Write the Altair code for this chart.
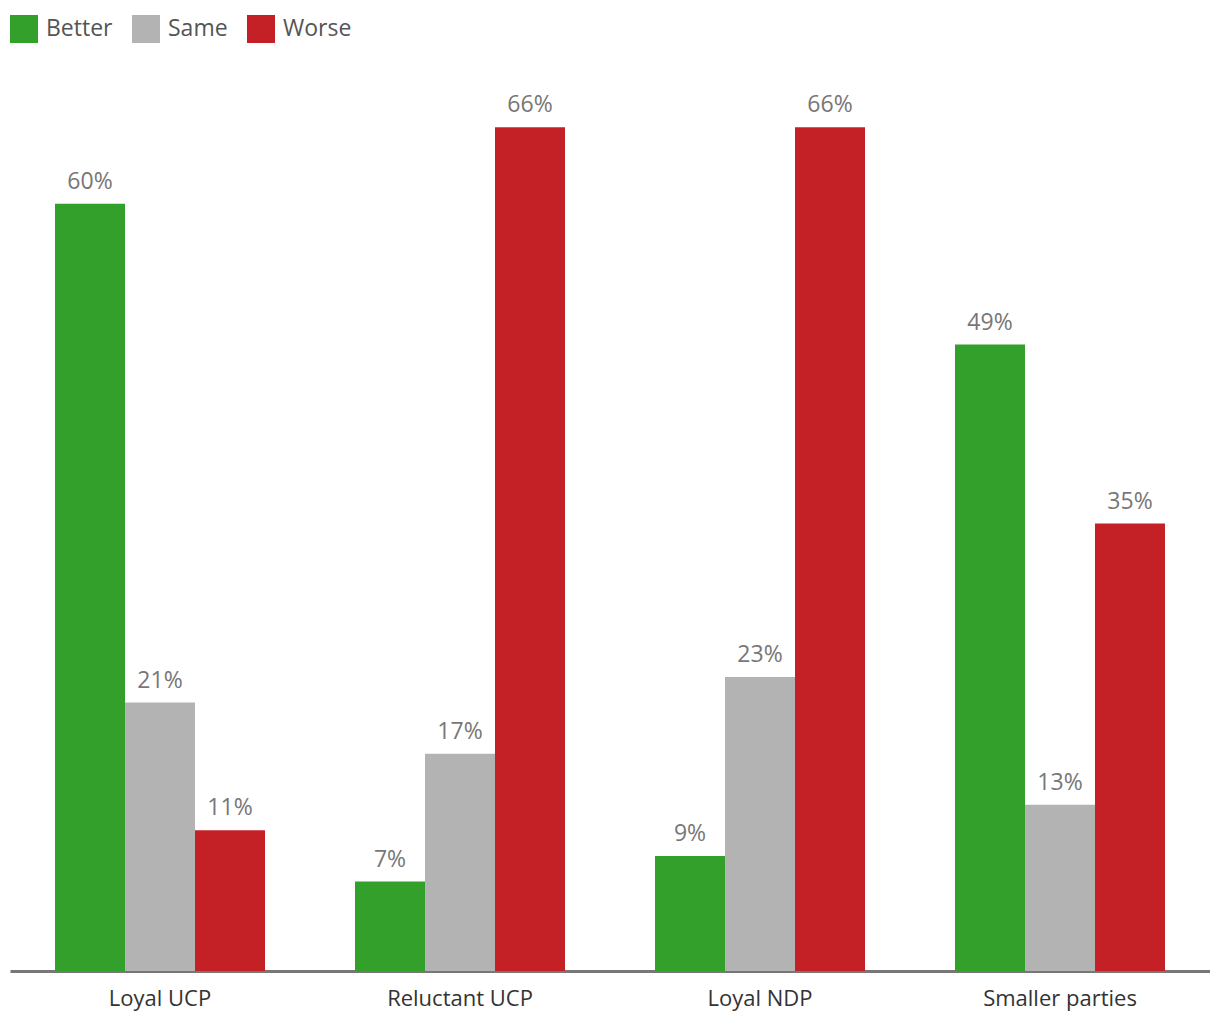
import altair as alt
import pandas as pd

categories = ["Loyal UCP", "Reluctant UCP", "Loyal NDP", "Smaller parties"]
series = ["Better", "Same", "Worse"]
better = [60, 7, 9, 49]
same = [21, 17, 23, 13]
worse = [11, 66, 66, 35]
colors = ["#33a02c", "#b3b3b3", "#c42127"]

rows = []
for i, c in enumerate(categories):
    for s, vals in zip(series, [better, same, worse]):
        rows.append({"group": c, "answer": s, "value": vals[i], "label": f"{vals[i]}%"})
df = pd.DataFrame(rows)

FONT = "Open Sans"

x = alt.X("group:N", sort=categories, title=None,
          scale=alt.Scale(paddingInner=0.3, paddingOuter=0.15),
          axis=alt.Axis(labelAngle=0, labelFontSize=22, labelColor="#333333",
                        labelFont=FONT, labelPadding=17, ticks=False,
                        domainColor="#777777", domainWidth=3))
xo = alt.XOffset("answer:N", sort=series, scale=alt.Scale(paddingInner=0, paddingOuter=0))
y = alt.Y("value:Q", scale=alt.Scale(domain=[0, 70], nice=False), axis=None)

bars = alt.Chart(df).mark_bar().encode(
    x=x, xOffset=xo, y=y,
    color=alt.Color("answer:N", sort=series,
                    scale=alt.Scale(domain=series, range=colors),
                    legend=alt.Legend(title=None, orient="none", direction="horizontal",
                                      legendX=0, legendY=-61,
                                      symbolType="square", symbolSize=784,
                                      symbolStrokeWidth=0, symbolOpacity=1,
                                      labelFontSize=23, labelColor="#555555",
                                      labelFont=FONT, labelOffset=8,
                                      columnPadding=19, padding=0)),
)

labels = alt.Chart(df).mark_text(baseline="alphabetic", dy=-15, fontSize=23,
                                 color="#777777", font=FONT).encode(
    x=alt.X("group:N", sort=categories), xOffset=xo, y=y, text="label:N")

chart = (bars + labels).properties(
    width=1200, height=895,
    padding={"left": 2, "top": 7, "right": 0, "bottom": 10},
).configure_view(stroke=None).configure_axis(grid=False)

chart.save("out.html", embed_options={"renderer": "svg", "actions": False})
